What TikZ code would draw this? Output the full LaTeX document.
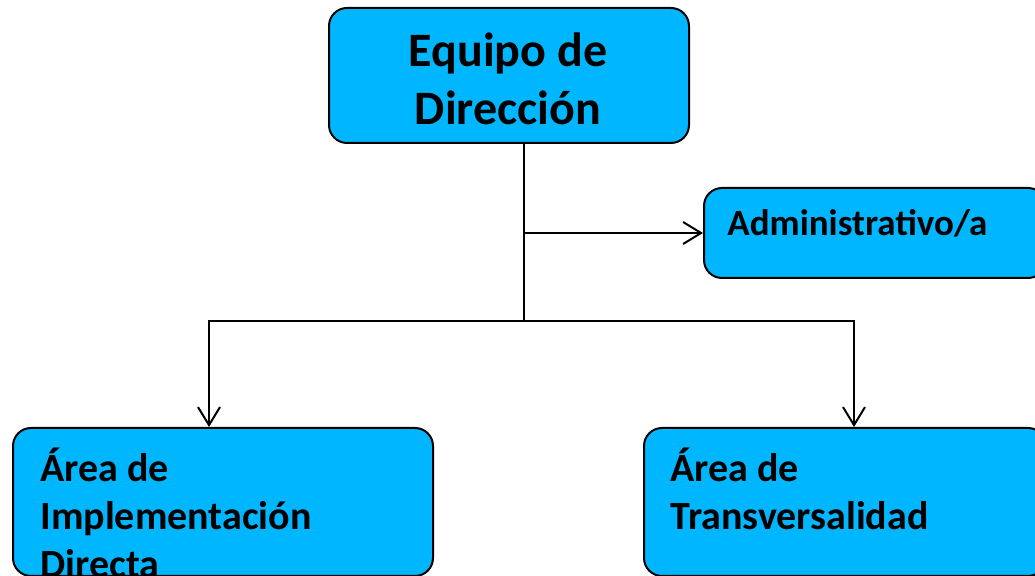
\documentclass[tikz,border=0pt]{standalone}
\usepackage{fontspec}
\setmainfont{Carlito}
\usetikzlibrary{arrows.meta,positioning}
\definecolor{boxblue}{RGB}{0,183,255}

\tikzset{
  unit/.style={draw=black,fill=boxblue,line width=1pt,rectangle,
    rounded corners=9pt,inner sep=0pt,anchor=north west},
  lbl/.style={inner sep=0pt,align=left},
  link/.style={line width=1pt,-{Straight Barb[length=9pt,width=11pt]}},
}

\begin{document}
\begin{tikzpicture}[x=0.5pt,y=-0.5pt]
\useasboundingbox (0,0) rectangle (1035,576);

\node[unit,minimum width=180pt,minimum height=67.5pt](dir) at (328,7) {};
\node[unit,minimum width=171pt,minimum height=45pt](admin) at (703,187) {};
\node[unit,minimum width=210pt,minimum height=74pt](impl) at (12,427) {};
\node[unit,minimum width=201pt,minimum height=74pt](transv) at (643,427) {};

% base anchor sits on the last line
\node[lbl,align=center,anchor=base,font=\bfseries\fontsize{24}{29}\selectfont](dirTxt) at (508,125) {Equipo de\\Dirección};
\node[lbl,anchor=base west,font=\bfseries\fontsize{18.5}{22}\selectfont](adminTxt) at (727,236) {Administrativo/a};
\node[lbl,anchor=base west,font=\bfseries\fontsize{20}{24}\selectfont](implTxt) at (40,578) {Área de\\Implementación\\Directa};
\node[lbl,anchor=base west,font=\bfseries\fontsize{20}{24}\selectfont](transvTxt) at (670,530) {Área de\\Transversalidad};

\coordinate (trunk) at ([xshift=7.5pt]dir.south);
\coordinate (fork) at (trunk |- 0,321);

\draw [line width=1pt] (trunk) -- (fork);
\draw [link] (trunk |- admin.west) -- (admin.west);
\draw [link] (fork) -| ([xshift=-7pt]impl.north);
\draw [link] (fork) -| ([xshift=4.5pt]transv.north);
\end{tikzpicture}
\end{document}
